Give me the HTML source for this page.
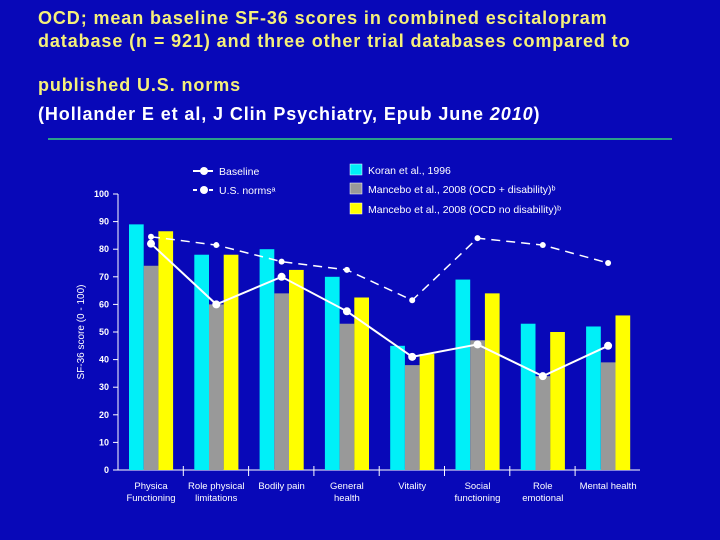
<!DOCTYPE html>
<html><head><meta charset="utf-8"><style>
body{margin:0;width:720px;height:540px;background:#0808b8;overflow:hidden;font-family:"Liberation Sans",sans-serif}
.t{position:absolute;left:38px;font-weight:bold;font-size:18px;letter-spacing:0.9px;color:#f5f07a;white-space:nowrap}
</style></head><body>
<div class="t" style="top:8px">OCD; mean baseline SF-36 scores in combined escitalopram</div>
<div class="t" style="top:31px">database (n = 921) and three other trial databases compared to</div>
<div class="t" style="top:75px">published U.S. norms</div>
<div class="t" style="top:104px;color:#fff">(Hollander E et al, J Clin Psychiatry, Epub June <i>2010</i>)</div>
<div style="position:absolute;left:48px;top:138px;width:624px;height:2px;background:#2aa08a"></div>
<svg id="c" width="720" height="540" style="position:absolute;left:0;top:0" font-family="Liberation Sans, sans-serif"></svg>
<script>
const categories=[["Physica","Functioning"],["Role physical","limitations"],["Bodily pain"],["General","health"],["Vitality"],["Social","functioning"],["Role","emotional"],["Mental health"]];
const koran=[89,78,80,70,45,69,53,52];
const manceboDis=[74,60,64,53,38,47,34,39];
const manceboNoDis=[86.5,78,72.5,62.5,42,64,50,56];
const baseline=[82,60,70,57.5,41,45.5,34,45];
const norms=[84.5,81.5,75.5,72.5,61.5,84,81.5,75];
const yTicks=[0,10,20,30,40,50,60,70,80,90,100];
const svg=document.getElementById('c');const NS='http://www.w3.org/2000/svg';
function mk(t,a,p){const e=document.createElementNS(NS,t);for(const k in a)e.setAttribute(k,a[k]);(p||svg).appendChild(e);return e;}
const y=v=>470-v*2.76;
const gx=i=>129+i*65.3;
const cx=i=>gx(i)+22;
const bw=14.7;
let ax=mk('line',{x1:118,y1:y(100),x2:118,y2:470,stroke:'#fff','stroke-width':1});

let xa=mk('line',{x1:118,y1:470,x2:640,y2:470,stroke:'#fff','stroke-width':1});

yTicks.forEach(v=>{
 mk('line',{x1:113,y1:y(v),x2:118,y2:y(v),stroke:'#fff'});
 const t=mk('text',{x:109,y:y(v)+3,'text-anchor':'end',fill:'#fff','font-size':9,'font-weight':'bold'});t.textContent=v;
 
});
const yt=mk('text',{x:84,y:332,'text-anchor':'middle',fill:'#fff','font-size':10,transform:'rotate(-90 84 332)'});
yt.textContent='SF-36 score (0 - 100)';

for(let i=1;i<8;i++)mk('line',{x1:gx(i)-11,y1:466,x2:gx(i)-11,y2:476,stroke:'#fff'});
const cols=['#00f0f8','#999999','#ffff00'];const names=['bar-koran','bar-mancebo-disability','bar-mancebo-no-disability'];
[koran,manceboDis,manceboNoDis].forEach((s,k)=>s.forEach((v,i)=>{
 const r=mk('rect',{x:gx(i)+k*bw,y:y(v),width:bw,height:470-y(v),fill:cols[k]});
 
}));
categories.forEach((c,i)=>c.forEach((l,j)=>{
 const t=mk('text',{x:cx(i),y:489+j*12,'text-anchor':'middle',fill:'#fff','font-size':9.5});t.textContent=l;
 
}));
function line(d,dash,name,r){
 const p=mk('polyline',{points:d.map((v,i)=>cx(i)+','+y(v)).join(' '),fill:'none',stroke:'#fff','stroke-width':dash?1.5:2,'stroke-dasharray':dash?'9 6':'none'});
 
 d.forEach((v,i)=>{const c=mk('circle',{cx:cx(i),cy:y(v),r:r,fill:'#fff'});});
}
line(norms,true,'us-norms-line',3);
line(baseline,false,'baseline-line',4);
const lg=mk('g',{});
mk('line',{x1:193,y1:171,x2:213,y2:171,stroke:'#fff','stroke-width':2},lg);mk('circle',{cx:204,cy:171,r:4,fill:'#fff'},lg);
mk('line',{x1:193,y1:190,x2:197,y2:190,stroke:'#fff','stroke-width':2},lg);mk('line',{x1:209,y1:190,x2:213,y2:190,stroke:'#fff','stroke-width':2},lg);mk('circle',{cx:204,cy:190,r:4,fill:'#fff'},lg);
[['Baseline',219,175],['U.S. normsᵃ',219,194]].forEach(a=>{const t=mk('text',{x:a[1],y:a[2],fill:'#fff','font-size':10.5},lg);t.textContent=a[0];});
[['Koran et al., 1996',165],['Mancebo et al., 2008 (OCD + disability)ᵇ',184],['Mancebo et al., 2008 (OCD no disability)ᵇ',204]].forEach((a,k)=>{
 mk('rect',{x:350,y:a[1]-1,width:12,height:11,fill:cols[k],stroke:'#fff','stroke-width':0.5},lg);
 const t=mk('text',{x:368,y:a[1]+9,fill:'#fff','font-size':10.5},lg);t.textContent=a[0];
});
</script>
</body></html>
